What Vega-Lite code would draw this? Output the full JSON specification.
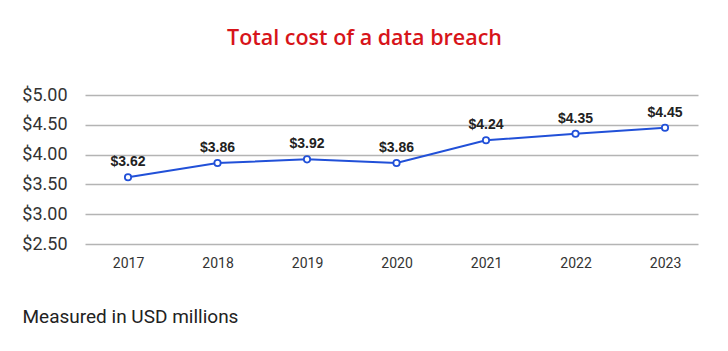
{
  "$schema": "https://vega.github.io/schema/vega-lite/v6.json",
  "width": 613,
  "height": 149,
  "autosize": {"type": "none"},
  "padding": {"left": 85, "top": 95, "right": 30, "bottom": 107},
  "background": "white",
  "config": {"view": {"stroke": null}},
  "title": {
    "text": "Total cost of a data breach",
    "color": "#d7141a",
    "font": "Open Sans",
    "fontSize": 21.5,
    "fontWeight": 600,
    "anchor": "middle",
    "frame": "group",
    "baseline": "alphabetic",
    "offset": 20,
    "dx": -27
  },
  "data": {
    "values": [
      {"year": "2017", "cost": 3.62},
      {"year": "2018", "cost": 3.86},
      {"year": "2019", "cost": 3.92},
      {"year": "2020", "cost": 3.86},
      {"year": "2021", "cost": 4.24},
      {"year": "2022", "cost": 4.35},
      {"year": "2023", "cost": 4.45}
    ]
  },
  "encoding": {
    "x": {
      "field": "year",
      "type": "ordinal",
      "scale": {"type": "point", "padding": 0.4246, "align": 0.566},
      "axis": {
        "labelAngle": 0,
        "labelFont": "Roboto",
        "labelFontSize": 14,
        "labelColor": "#333333",
        "labelPadding": 12,
        "ticks": false,
        "domain": false,
        "grid": false,
        "title": "Measured in USD millions",
        "titleFont": "Roboto",
        "titleFontSize": 19,
        "titleFontWeight": "normal",
        "titleColor": "#222222",
        "titleAnchor": "start",
        "titleAlign": "left",
        "titleBaseline": "alphabetic",
        "titleX": -63,
        "titleY": 78
      }
    },
    "y": {
      "field": "cost",
      "type": "quantitative",
      "scale": {"domain": [2.5, 5], "zero": false, "nice": false},
      "axis": {
        "values": [2.5, 3, 3.5, 4, 4.5, 5],
        "format": "$.2f",
        "labelFont": "Roboto",
        "labelFontSize": 18,
        "labelColor": "#333333",
        "labelPadding": 18,
        "ticks": false,
        "domain": false,
        "grid": true,
        "gridColor": "#b4b4b4",
        "gridWidth": 1.5,
        "title": null
      }
    }
  },
  "layer": [
    {
      "mark": {"type": "line", "color": "#2150d8", "strokeWidth": 2}
    },
    {
      "mark": {"type": "point", "filled": true, "fill": "white", "stroke": "#2150d8", "strokeWidth": 1.8, "size": 40, "opacity": 1}
    },
    {
      "mark": {"type": "text", "font": "Liberation Sans", "fontSize": 14, "fontWeight": "bold", "color": "#222222", "baseline": "alphabetic", "dy": -11},
      "encoding": {"text": {"field": "cost", "type": "quantitative", "format": "$.2f"}}
    }
  ]
}
